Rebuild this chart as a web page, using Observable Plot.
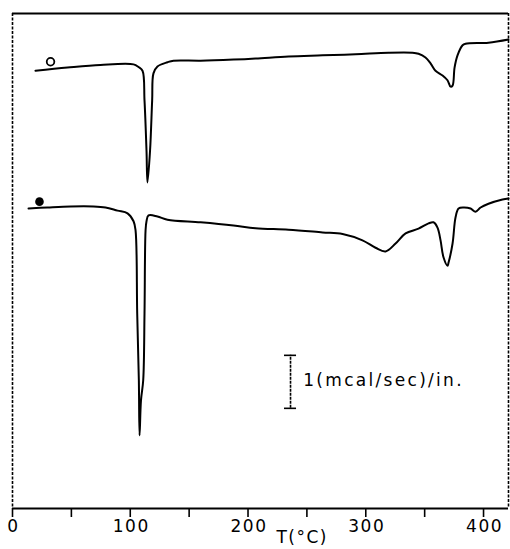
<!DOCTYPE html>
<html><head><meta charset="utf-8">
<script src="https://cdn.jsdelivr.net/npm/d3@7"></script>
<script src="https://cdn.jsdelivr.net/npm/@observablehq/plot@0.6"></script>
<style>body{margin:0;background:#fff} svg{display:block}</style>
</head><body><div id="chart"></div>
<script>
// Temperature (°C) and heat-flow signal (mcal/sec, arbitrary baseline)
const upperT = [19.5, 46.7, 74.7, 102.8, 107.0, 110.4, 112.1, 113.8, 114.6, 116.8, 118.6, 119.7, 123.1, 131.6, 136.7, 159.7, 187.7, 206.4, 234.4, 263.3, 291.3, 319.3, 339.7, 344.8, 350.7, 355.0, 359.2, 365.2, 369.4, 372.0, 373.7, 375.4, 377.9, 382.2, 384.7, 404.2, 421.2];
const upperS = [8.26, 8.32, 8.37, 8.38, 8.33, 8.26, 7.70, 6.75, 6.15, 6.75, 7.70, 8.21, 8.34, 8.42, 8.45, 8.45, 8.47, 8.49, 8.53, 8.55, 8.57, 8.60, 8.60, 8.58, 8.51, 8.40, 8.26, 8.17, 8.08, 7.96, 7.98, 8.32, 8.55, 8.74, 8.77, 8.79, 8.85];
const lowerT = [13.6, 29.7, 49.3, 68.8, 79.0, 89.2, 97.7, 102.8, 104.5, 105.9, 107.3, 107.9, 109.1, 111.0, 112.1, 113.0, 113.8, 115.5, 123.1, 131.6, 159.7, 187.7, 206.4, 234.4, 263.3, 280.3, 297.2, 308.3, 316.8, 325.3, 333.8, 344.8, 353.3, 357.5, 360.9, 363.5, 366.0, 369.4, 370.3, 373.7, 376.2, 378.8, 383.0, 389.0, 393.2, 397.5, 404.2, 416.1, 421.2];
const lowerS = [5.66, 5.68, 5.70, 5.70, 5.68, 5.62, 5.57, 5.42, 5.25, 3.68, 2.42, 1.38, 2.04, 2.42, 3.68, 5.25, 5.42, 5.53, 5.51, 5.45, 5.40, 5.34, 5.29, 5.26, 5.21, 5.18, 5.06, 4.92, 4.85, 5.00, 5.19, 5.28, 5.38, 5.40, 5.30, 5.06, 4.74, 4.58, 4.64, 5.00, 5.49, 5.66, 5.68, 5.66, 5.60, 5.68, 5.75, 5.83, 5.85];
const openMarker = [{t: 32.3, s: 8.43}];
const filledMarker = [{t: 22.9, s: 5.79}];
const xTicks = [0, 50, 100, 150, 200, 250, 300, 350, 400];
const xTickLabels = ["0", "", "100", "", "200", "", "300", "", "400"];
const xLabel = "T(°C)";
const scaleBarT = [236.1];
const scaleBarFrom = [1.89];
const scaleBarTo = [2.89];
const scaleBarLabel = ["1(mcal/sec)/in."];
const xDomain = [0, 421.2];
const yDomain = [0, 9.34];

const upper = upperT.map((t, i) => ({t, s: upperS[i]}));
const lower = lowerT.map((t, i) => ({t, s: lowerS[i]}));
const bar = scaleBarT.map((t, i) => ({t, from: scaleBarFrom[i], to: scaleBarTo[i], label: scaleBarLabel[i]}));
const tickLabels = xTicks.map((t, i) => ({t, label: xTickLabels[i]})).filter(d => d.label !== "");
const capHalf = 5.1;

const chart = Plot.plot({
  width: 510, height: 549,
  marginLeft: 12, marginRight: 2, marginTop: 13, marginBottom: 41,
  x: {domain: xDomain, axis: null, label: null},
  y: {domain: yDomain, axis: null, label: null},
  style: {fontFamily: "'DejaVu Sans', sans-serif", fontSize: "17px", background: "white", color: "black"},
  marks: [
    Plot.ruleY([yDomain[0], yDomain[1]], {stroke: "black", strokeWidth: 1.8}),
    Plot.ruleX([xDomain[0], xDomain[1]], {stroke: "black", strokeWidth: 1.6, strokeDasharray: "3,1.5"}),
    Plot.axisX(xTicks, {tickSize: 9, tickPadding: 7, strokeWidth: 1.6, label: null, tickFormat: () => ""}),
    Plot.text(tickLabels, {x: "t", text: "label", frameAnchor: "bottom", dy: 23, dx: 1, fontSize: 17}),
    Plot.text([xLabel], {frameAnchor: "bottom", x: 246, dy: 34, text: d => d, fontSize: 17}),
    Plot.line(upper, {x: "t", y: "s", curve: "catmull-rom", stroke: "black", strokeWidth: 2}),
    Plot.line(lower, {x: "t", y: "s", curve: "catmull-rom", stroke: "black", strokeWidth: 2}),
    Plot.dot(openMarker, {x: "t", y: "s", r: 3.8, stroke: "black", strokeWidth: 1.8, fill: "none"}),
    Plot.dot(filledMarker, {x: "t", y: "s", r: 4.3, fill: "black", stroke: "none"}),
    Plot.ruleX(bar, {x: "t", y1: "from", y2: "to", stroke: "black", strokeWidth: 1.6, strokeDasharray: "3,1"}),
    Plot.ruleY(bar, {y: "from", x1: d => d.t - capHalf, x2: d => d.t + capHalf, stroke: "black", strokeWidth: 1.6}),
    Plot.ruleY(bar, {y: "to", x1: d => d.t - capHalf, x2: d => d.t + capHalf, stroke: "black", strokeWidth: 1.6}),
    Plot.text(bar, {x: d => d.t + 10.8, y: d => (d.from + d.to) / 2 + 0.02, text: "label", textAnchor: "start", fontSize: 17})
  ]
});
d3.select(chart).selectAll("text").filter(function() { return this.textContent === scaleBarLabel[0]; })
  .attr("letter-spacing", "2.3");
d3.select(chart).selectAll("text").filter(function() { return this.textContent === xLabel; })
  .attr("letter-spacing", "1.5");
d3.select(chart).selectAll("text").filter(function() { return xTickLabels.includes(this.textContent) && this.textContent !== ""; })
  .attr("letter-spacing", "1.5");
document.getElementById("chart").append(chart);
</script>
</body></html>
